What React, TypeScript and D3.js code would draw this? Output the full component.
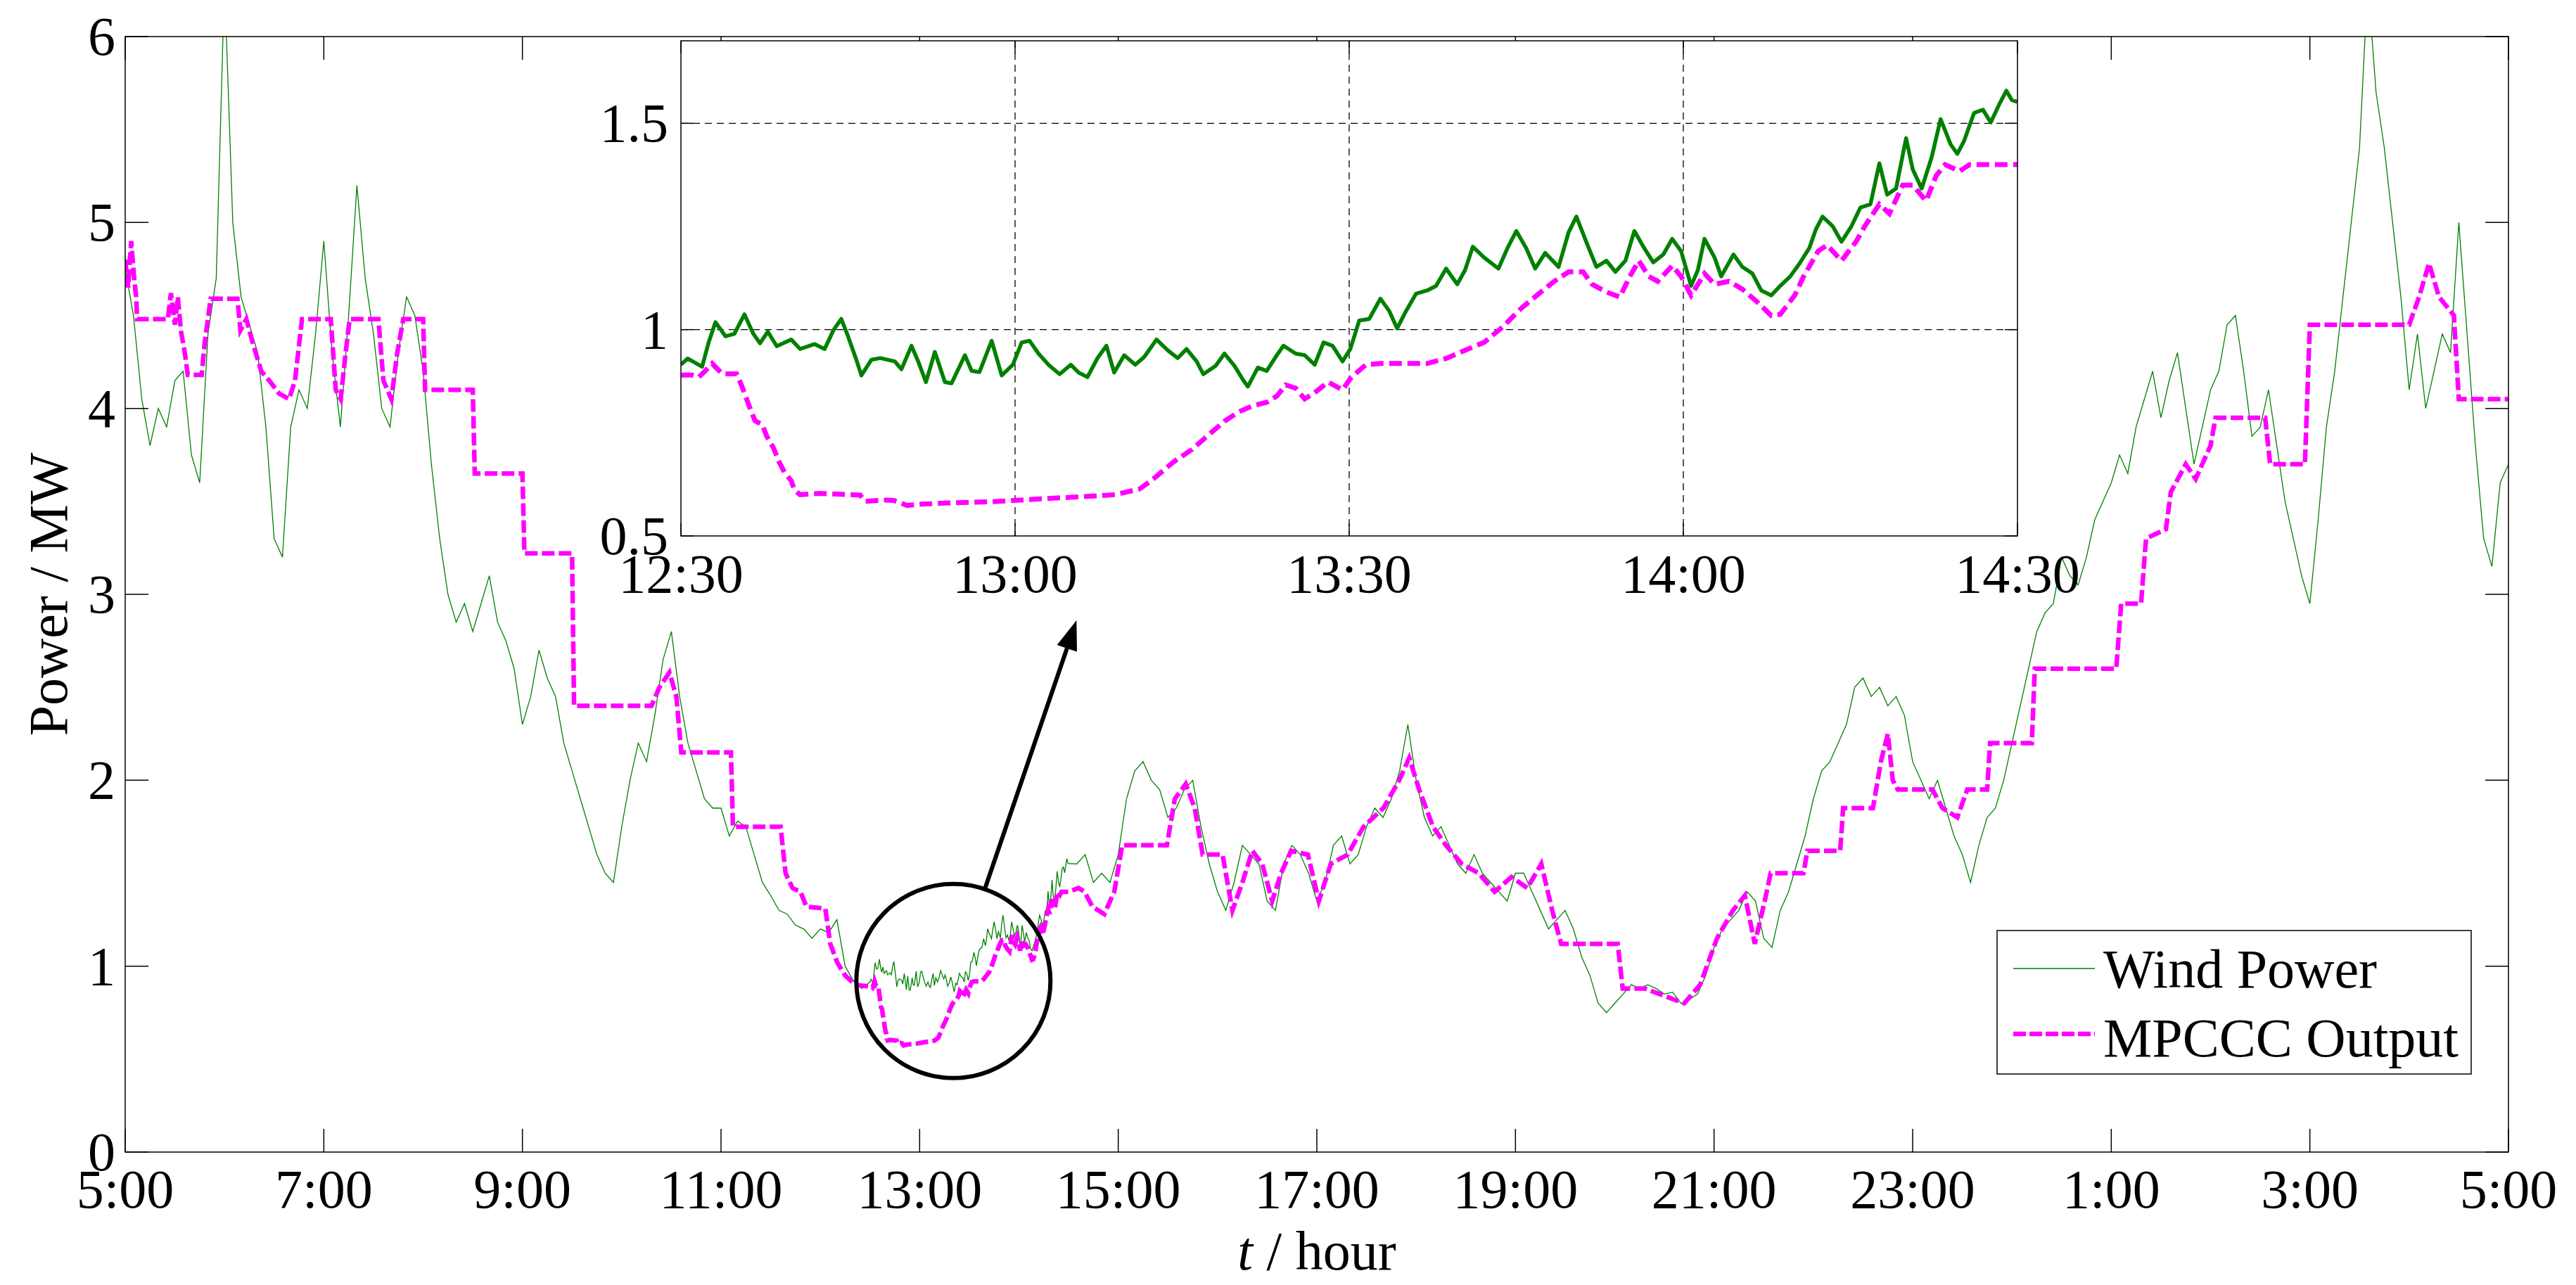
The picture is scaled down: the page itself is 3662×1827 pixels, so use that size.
import React from "react";
import * as d3 from "d3";

// ---------------- data ----------------
// main axis: hours after 5:00 (0..24)
const xTickHours = [0, 2, 4, 6, 8, 10, 12, 14, 16, 18, 20, 22, 24];
const xTickLabels = ["5:00", "7:00", "9:00", "11:00", "13:00", "15:00", "17:00", "19:00", "21:00", "23:00", "1:00", "3:00", "5:00"];
const yTicks = [0, 1, 2, 3, 4, 5, 6];

// wind power sampled every 5 minutes from 5:00 (MW)
const windPower = [
  4.75, 4.5, 4.05, 3.8, 4.0, 3.9, 4.15, 4.2, 3.75, 3.6, 4.4, 4.7,
  6.3, 5.0, 4.6, 4.45, 4.3, 3.9, 3.3, 3.2, 3.9, 4.1, 4.0, 4.4,
  4.9, 4.3, 3.9, 4.5, 5.2, 4.7, 4.4, 4.0, 3.9, 4.3, 4.6, 4.5,
  4.2, 3.7, 3.3, 3.0, 2.85, 2.95, 2.8, 2.95, 3.1, 2.85, 2.75, 2.6,
  2.3, 2.45, 2.7, 2.55, 2.45, 2.2, 2.05, 1.9, 1.75, 1.6, 1.5, 1.45,
  1.75, 2.0, 2.2, 2.1, 2.35, 2.65, 2.8, 2.45, 2.2, 2.05, 1.9, 1.85,
  1.85, 1.7, 1.78, 1.75, 1.6, 1.45, 1.38, 1.3, 1.28, 1.22, 1.2, 1.15,
  1.2, 1.18, 1.25, 1.0, 0.92, 0.88, 0.915, 0.99, 0.96, 0.98, 0.9, 0.95,
  0.915, 0.9, 0.93, 0.93, 0.88, 0.94, 0.95, 1.04, 1.1, 1.2, 1.15, 1.2,
  1.19, 1.2, 1.11, 1.2, 1.4, 1.46, 1.55, 1.55, 1.6, 1.45, 1.5, 1.45,
  1.6, 1.9, 2.05, 2.1, 2.0, 1.95, 1.8, 1.85, 1.95, 2.0, 1.75, 1.55,
  1.4, 1.3, 1.45, 1.65, 1.6, 1.55, 1.35, 1.3, 1.55, 1.65, 1.6, 1.5,
  1.35, 1.45, 1.65, 1.7, 1.55, 1.6, 1.75, 1.85, 1.8, 1.9, 2.05, 2.3,
  2.0, 1.8, 1.7, 1.75, 1.65, 1.55, 1.5, 1.6, 1.5, 1.45, 1.4, 1.35,
  1.5, 1.5, 1.4, 1.3, 1.2, 1.25, 1.3, 1.2, 1.05, 0.95, 0.8, 0.75,
  0.8, 0.85, 0.9, 0.88, 0.9, 0.88, 0.85, 0.86, 0.8, 0.82, 0.85, 0.95,
  1.1, 1.2, 1.25, 1.3, 1.4, 1.35, 1.15, 1.1, 1.3, 1.4, 1.55, 1.7,
  1.9, 2.05, 2.1, 2.2, 2.3, 2.5, 2.55, 2.45, 2.5, 2.4, 2.45, 2.35,
  2.1, 2.0, 1.9, 2.0, 1.85, 1.7, 1.6, 1.45, 1.65, 1.8, 1.85, 2.0,
  2.2, 2.4, 2.6, 2.8, 2.9, 2.95, 3.2, 3.1, 3.05, 3.2, 3.4, 3.5,
  3.6, 3.75, 3.65, 3.9, 4.05, 4.2, 3.95, 4.15, 4.3, 4.0, 3.7, 3.9,
  4.1, 4.2, 4.45, 4.5, 4.2, 3.85, 3.9, 4.1, 3.8, 3.5, 3.3, 3.1,
  2.95, 3.4, 3.9, 4.2, 4.6, 5.0, 5.4, 6.3, 5.7, 5.4, 5.0, 4.6,
  4.1, 4.4, 4.0, 4.2, 4.4, 4.3, 5.0, 4.4, 3.8, 3.3, 3.15, 3.6, 3.7,
];

// MPCCC output breakpoints (hours after 5:00, MW)
const mpcccHours = [
  0, 0.03, 0.06, 0.09, 0.11, 0.12, 0.43, 0.46, 0.5, 0.53,
  0.56, 0.6, 0.63, 0.77, 0.8, 0.86, 1.13, 1.16, 1.22, 1.28,
  1.37, 1.45, 1.55, 1.65, 1.71, 1.78, 2.07, 2.12, 2.17, 2.22,
  2.26, 2.55, 2.6, 2.68, 2.74, 2.8, 3.0, 3.02, 3.5, 3.52,
  4.0, 4.02, 4.5, 4.52, 5.3, 5.38, 5.48, 5.55, 5.6, 6.1,
  6.12, 6.6, 6.65, 6.72, 6.8, 6.86, 7.05, 7.1, 7.17, 7.25,
  7.35,
  9.6, 9.66, 9.74, 9.86, 9.96, 10.04, 10.49, 10.57, 10.68, 10.77,
  10.85, 11.05, 11.15, 11.25, 11.35, 11.45, 11.55, 11.64, 11.74, 11.91,
  12.02, 12.14, 12.31, 12.47, 12.67, 12.83, 12.93, 13.03, 13.17, 13.3,
  13.46, 13.63, 13.79, 13.96, 14.12, 14.26, 14.37, 14.46, 15.03, 15.08,
  15.3, 15.45, 15.7, 15.86, 16.03, 16.19, 16.31, 16.41, 16.51, 16.57,
  16.9, 16.94, 17.27, 17.3, 17.6, 17.68, 17.75, 17.8, 17.85, 18.2,
  18.3, 18.45, 18.55, 18.75, 18.78, 19.2, 19.23, 19.7, 20.05, 20.1,
  20.3, 20.35, 20.55, 20.6, 20.75, 20.85, 21.0, 21.05, 21.55, 21.6,
  21.95, 22.0, 23.0, 23.1, 23.2, 23.3, 23.45, 23.5, 24.0,
];
const mpcccValues = [
  4.8, 4.65, 4.9, 4.7, 4.6, 4.48, 4.48, 4.62, 4.45, 4.6,
  4.42, 4.3, 4.18, 4.18, 4.35, 4.59, 4.59, 4.42, 4.48, 4.36,
  4.2, 4.15, 4.08, 4.05, 4.15, 4.48, 4.48, 4.1, 4.05, 4.3,
  4.48, 4.48, 4.15, 4.05, 4.3, 4.48, 4.48, 4.1, 4.1, 3.65,
  3.65, 3.22, 3.22, 2.4, 2.4, 2.5, 2.58, 2.45, 2.15, 2.15,
  1.75, 1.75, 1.5, 1.42, 1.4, 1.32, 1.31, 1.12, 1.02, 0.95,
  0.9,
  1.42, 1.4, 1.32, 1.28, 1.4, 1.65, 1.65, 1.9, 1.98, 1.85,
  1.6, 1.6, 1.3, 1.45, 1.62, 1.55, 1.35, 1.5, 1.62, 1.6,
  1.35, 1.55, 1.6, 1.75, 1.85, 2.0, 2.12, 1.95, 1.75, 1.65,
  1.55, 1.5, 1.4, 1.48, 1.42, 1.55, 1.3, 1.12, 1.12, 0.88,
  0.88, 0.85, 0.8, 0.9, 1.15, 1.3, 1.38, 1.12, 1.35, 1.5,
  1.5, 1.62, 1.62, 1.85, 1.85, 2.1, 2.25, 2.0, 1.95, 1.95,
  1.85, 1.8, 1.95, 1.95, 2.2, 2.2, 2.6, 2.6, 2.6, 2.95,
  2.95, 3.3, 3.35, 3.55, 3.7, 3.62, 3.8, 3.95, 3.95, 3.7,
  3.7, 4.45, 4.45, 4.6, 4.78, 4.6, 4.5, 4.05, 4.05,
];

// inset (12:30 - 14:30), minutes after 12:30
const insetXTickMinutes = [0, 30, 60, 90, 120];
const insetXTickLabels = ["12:30", "13:00", "13:30", "14:00", "14:30"];
const insetYTicks = [0.5, 1, 1.5];
const insetYTickLabels = ["0.5", "1", "1.5"];

const insetWindMinutes = [
  0, 0.6, 1.9, 2.5, 3.1, 4.0, 4.8, 5.7, 6.5, 7.1,
  7.8, 8.6, 9.9, 10.7, 12, 12.9, 13.7, 14.4, 15, 15.8,
  16.2, 17.1, 17.9, 19.2, 19.8, 20.7, 21.3, 22, 22.8, 23.7,
  24.3, 25.5, 26.1, 26.8, 27.9, 28.8, 29.8, 30.6, 31.3, 32.1,
  33, 34, 35, 35.7, 36.5, 37.4, 38.2, 38.9, 39.8, 40.8,
  41.6, 42.7, 43.7, 44.6, 45.4, 46.3, 46.9, 48, 48.8, 49.7,
  50.5, 50.9, 51.8, 52.6, 53.5, 54.1, 55.2, 56, 56.9, 57.7,
  58.5, 59.4, 60.1, 60.9, 61.8, 62.8, 63.6, 64.3, 65.1, 66,
  67, 67.8, 68.7, 69.7, 70.4, 71.1, 72.1, 73.4, 74.2, 75,
  75.9, 76.7, 77.6, 78.8, 79.7, 80.4, 81.4, 82.2, 83.1, 83.9,
  84.8, 85.6, 86.5, 87.3, 88.2, 89, 89.8, 90.7, 91.3, 91.9,
  92.8, 93.4, 94.5, 95.3, 96.2, 97, 97.9, 98.7, 99.6, 100.4,
  101.3, 101.9, 102.5, 103.4, 104.2, 105.1, 105.9, 106.8, 107.6, 108.3,
  109.1, 110, 110.6, 111.4, 112.3, 113.1, 114, 114.6, 115.2, 116.1,
  116.9, 117.6, 118.4, 119, 119.5, 120,
];
const insetWindValues = [
  0.915, 0.93, 0.91, 0.97, 1.018, 0.984, 0.99, 1.037, 0.99, 0.967,
  0.995, 0.96, 0.976, 0.953, 0.965, 0.953, 0.999, 1.026, 0.984, 0.923,
  0.889, 0.927, 0.931, 0.923, 0.904, 0.961, 0.923, 0.873, 0.946, 0.873,
  0.87, 0.938, 0.9, 0.897, 0.973, 0.889, 0.915, 0.969, 0.973, 0.942,
  0.915, 0.892, 0.915, 0.896, 0.885, 0.931, 0.961, 0.896, 0.938, 0.915,
  0.934, 0.976, 0.95, 0.931, 0.953, 0.923, 0.892, 0.912, 0.942, 0.912,
  0.877, 0.862, 0.908, 0.9, 0.938, 0.961, 0.942, 0.938, 0.915, 0.969,
  0.961, 0.923, 0.953, 1.022, 1.026, 1.075, 1.045, 1.003, 1.045, 1.087,
  1.095, 1.106, 1.148, 1.11, 1.144, 1.201, 1.175, 1.148, 1.197, 1.239,
  1.197, 1.148, 1.186, 1.152, 1.236, 1.274, 1.205, 1.152, 1.167, 1.14,
  1.167, 1.239, 1.197, 1.163, 1.182, 1.22, 1.19, 1.106, 1.144, 1.22,
  1.175, 1.129, 1.182, 1.152, 1.136, 1.095, 1.083, 1.106, 1.129, 1.159,
  1.197, 1.243, 1.274, 1.251, 1.213, 1.251, 1.296, 1.304, 1.403, 1.327,
  1.342, 1.464, 1.388, 1.342, 1.418, 1.51, 1.449, 1.426, 1.457, 1.525,
  1.533, 1.502, 1.548, 1.579, 1.556, 1.552,
];

const insetMpcccMinutes = [
  0, 1.0, 1.6, 2.0, 2.8, 3.7, 5.0, 5.5, 5.8, 6.2,
  6.65, 7.3, 7.7, 8.3, 8.8, 9.3, 9.9, 10.2, 10.7, 12.5,
  16.1, 16.5, 18.4, 19.1, 20.3, 21.6, 24, 28, 32.3, 36,
  39, 41.2, 42.5, 44.2, 45.9, 47.5, 48.8, 50.1, 51.4, 52.6,
  53.5, 54.3, 55.2, 56.0, 56.9, 58.1, 59.4, 60.2, 61.5, 62.8,
  67.0, 68.7, 70.4, 72.1, 73.8, 75.5, 77.2, 78.4, 79.7, 81.0,
  81.8, 83.1, 84.3, 85.2, 86.0, 86.9, 87.7, 89.0, 89.8, 90.7,
  91.9, 92.8, 94.1, 95.3, 96.6, 97.9, 98.7, 100.0, 100.8, 102.1,
  102.9, 104.2, 105.5, 106.3, 107.6, 108.5, 109.7, 110.6, 111.8, 112.7,
  113.5, 114.8, 115.7, 120,
];
const insetMpcccValues = [
  0.89, 0.89, 0.885, 0.895, 0.918, 0.893, 0.893, 0.861, 0.839, 0.81,
  0.779, 0.77, 0.742, 0.714, 0.68, 0.654, 0.634, 0.611, 0.6, 0.603,
  0.599, 0.584, 0.587, 0.586, 0.574, 0.577, 0.58, 0.583, 0.59, 0.595,
  0.6, 0.614, 0.64, 0.679, 0.71, 0.748, 0.778, 0.801, 0.816, 0.824,
  0.839, 0.866, 0.858, 0.832, 0.847, 0.873, 0.854, 0.885, 0.915, 0.918,
  0.918, 0.93, 0.95, 0.969, 1.007, 1.053, 1.091, 1.117, 1.14, 1.14,
  1.11, 1.091, 1.079, 1.129, 1.167, 1.129, 1.117, 1.155, 1.129, 1.083,
  1.136, 1.11, 1.117, 1.098, 1.068, 1.034, 1.037, 1.083, 1.129, 1.19,
  1.205, 1.167, 1.213, 1.251, 1.304, 1.281, 1.35, 1.35, 1.312, 1.373,
  1.4, 1.384, 1.4, 1.4,
];

// annotation (data coordinates)
const zoomCircleCenter = { hour: 8.34, mw: 0.92 };
const arrowTipPoint = { hour: 9.58, mw: 2.86 };

const legendLabels = ["Wind Power", "MPCCC Output"];

// ---------------- layout / style ----------------
const W = 3662;
const H = 1827;
const M = { left: 178, right: 3566, top: 52, bottom: 1638 };
const INSET = { left: 968, right: 2868, top: 58, bottom: 762 };
const FONT = "'Liberation Serif', 'Times New Roman', Times, serif";
const FS = 78;
const GREEN = "#008000";
const MAGENTA = "#ff00ff";
const INSET_START_HOUR = 7.5;

export default function App() {
  const x = d3.scaleLinear().domain([0, 24]).range([M.left, M.right]);
  const y = d3.scaleLinear().domain([0, 6]).range([M.bottom, M.top]);
  const xi = d3.scaleLinear().domain([0, 120]).range([INSET.left, INSET.right]);
  const yi = d3.scaleLinear().domain([0.5, 1.7]).range([INSET.bottom, INSET.top]);

  const coarse: [number, number][] = windPower.map((v, i) => [i / 12, v]);
  const fineWind: [number, number][] = insetWindMinutes.map((m, i) => [INSET_START_HOUR + m / 60, insetWindValues[i]]);
  const windMain = [
    ...coarse.filter((d) => d[0] < INSET_START_HOUR),
    ...fineWind,
    ...coarse.filter((d) => d[0] > INSET_START_HOUR + 2),
  ];
  const mpCoarse: [number, number][] = mpcccHours.map((h, i) => [h, mpcccValues[i]]);
  const fineMp: [number, number][] = insetMpcccMinutes.map((m, i) => [INSET_START_HOUR + m / 60, insetMpcccValues[i]]);
  const mpMain = [
    ...mpCoarse.filter((d) => d[0] < INSET_START_HOUR),
    ...fineMp,
    ...mpCoarse.filter((d) => d[0] > INSET_START_HOUR + 2),
  ];

  const lineMain = d3
    .line<[number, number]>()
    .x((d) => x(d[0]))
    .y((d) => y(d[1]));
  const lineInset = d3
    .line<[number, number]>()
    .x((d) => xi(d[0]))
    .y((d) => yi(d[1]));

  const insetWind: [number, number][] = insetWindMinutes.map((m, i) => [m, insetWindValues[i]]);
  const insetMp: [number, number][] = insetMpcccMinutes.map((m, i) => [m, insetMpcccValues[i]]);

  // annotation geometry
  const cx = x(zoomCircleCenter.hour);
  const cy = y(zoomCircleCenter.mw);
  const r = 138;
  const tx = x(arrowTipPoint.hour);
  const ty = y(arrowTipPoint.mw);
  const dx = tx - cx;
  const dy = ty - cy;
  const len = Math.hypot(dx, dy);
  const ux = dx / len;
  const uy = dy / len;
  const sx = cx + ux * r;
  const sy = cy + uy * r;
  const headLen = 42;
  const headHalf = 15;
  const bx = tx - ux * headLen;
  const by = ty - uy * headLen;
  const px = -uy;
  const py = ux;
  const head = `M${tx},${ty} L${bx + px * headHalf},${by + py * headHalf} L${bx - px * headHalf},${by - py * headHalf} Z`;

  const tick = 33;
  const itick = 18;

  return (
    <svg
      width={W}
      height={H}
      viewBox={`0 0 ${W} ${H}`}
      style={{ position: "absolute", left: 0, top: 0, background: "#fff" }}
      fontFamily={FONT}
    >
      <defs>
        <clipPath id="mainClip">
          <rect x={M.left} y={M.top} width={M.right - M.left} height={M.bottom - M.top} />
        </clipPath>
        <clipPath id="insetClip">
          <rect x={INSET.left} y={INSET.top} width={INSET.right - INSET.left} height={INSET.bottom - INSET.top} />
        </clipPath>
      </defs>
      <rect x={0} y={0} width={W} height={H} fill="#fff" />

      {/* main data */}
      <g clipPath="url(#mainClip)">
        <path d={lineMain(windMain) || ""} fill="none" stroke={GREEN} strokeWidth={1.3} strokeLinejoin="miter" />
        <path d={lineMain(mpMain) || ""} fill="none" stroke={MAGENTA} strokeWidth={6.5} strokeDasharray="18,6" />
      </g>

      {/* main frame and ticks */}
      <rect x={M.left} y={M.top} width={M.right - M.left} height={M.bottom - M.top} fill="none" stroke="#000" strokeWidth={1.5} />
      {xTickHours.map((h, i) => (
        <g key={"xt" + i}>
          <line x1={x(h)} x2={x(h)} y1={M.bottom} y2={M.bottom - tick} stroke="#000" strokeWidth={1.5} />
          <line x1={x(h)} x2={x(h)} y1={M.top} y2={M.top + tick} stroke="#000" strokeWidth={1.5} />
          <text x={x(h)} y={1717} fontSize={FS} textAnchor="middle">
            {xTickLabels[i]}
          </text>
        </g>
      ))}
      {yTicks.map((v) => (
        <g key={"yt" + v}>
          <line x1={M.left} x2={M.left + tick} y1={y(v)} y2={y(v)} stroke="#000" strokeWidth={1.5} />
          <line x1={M.right} x2={M.right - tick} y1={y(v)} y2={y(v)} stroke="#000" strokeWidth={1.5} />
          <text x={164} y={y(v) + 26} fontSize={FS} textAnchor="end">
            {v}
          </text>
        </g>
      ))}

      {/* axis titles */}
      <text x={(M.left + M.right) / 2} y={1805} fontSize={FS} textAnchor="middle">
        <tspan fontStyle="italic">t</tspan> / hour
      </text>
      <text transform={`translate(95, ${(M.top + M.bottom) / 2}) rotate(-90)`} fontSize={FS} textAnchor="middle">
        Power / MW
      </text>

      {/* zoom circle and arrow */}
      <circle cx={cx} cy={cy} r={r} fill="none" stroke="#000" strokeWidth={6} />
      <line x1={sx} y1={sy} x2={bx} y2={by} stroke="#000" strokeWidth={6} />
      <path d={head} fill="#000" />

      {/* inset */}
      <rect x={INSET.left} y={INSET.top} width={INSET.right - INSET.left} height={INSET.bottom - INSET.top} fill="#fff" />
      {insetYTicks.slice(1).map((v) => (
        <line key={"igy" + v} x1={INSET.left} x2={INSET.right} y1={yi(v)} y2={yi(v)} stroke="#000" strokeWidth={1.3} strokeDasharray="10,7" />
      ))}
      {insetXTickMinutes.slice(1, -1).map((m) => (
        <line key={"igx" + m} x1={xi(m)} x2={xi(m)} y1={INSET.top} y2={INSET.bottom} stroke="#000" strokeWidth={1.3} strokeDasharray="10,7" />
      ))}
      <g clipPath="url(#insetClip)">
        <path d={lineInset(insetWind) || ""} fill="none" stroke={GREEN} strokeWidth={5.5} strokeLinejoin="round" />
        <path d={lineInset(insetMp) || ""} fill="none" stroke={MAGENTA} strokeWidth={7} strokeDasharray="18,8" />
      </g>
      <rect x={INSET.left} y={INSET.top} width={INSET.right - INSET.left} height={INSET.bottom - INSET.top} fill="none" stroke="#000" strokeWidth={1.5} />
      {insetXTickMinutes.map((m, i) => (
        <g key={"ixt" + m}>
          <line x1={xi(m)} x2={xi(m)} y1={INSET.bottom} y2={INSET.bottom - itick} stroke="#000" strokeWidth={1.5} />
          <line x1={xi(m)} x2={xi(m)} y1={INSET.top} y2={INSET.top + itick} stroke="#000" strokeWidth={1.5} />
          <text x={xi(m)} y={842} fontSize={FS} textAnchor="middle">
            {insetXTickLabels[i]}
          </text>
        </g>
      ))}
      {insetYTicks.map((v, i) => (
        <g key={"iyt" + v}>
          <line x1={INSET.left} x2={INSET.left + itick} y1={yi(v)} y2={yi(v)} stroke="#000" strokeWidth={1.5} />
          <line x1={INSET.right} x2={INSET.right - itick} y1={yi(v)} y2={yi(v)} stroke="#000" strokeWidth={1.5} />
          <text x={950} y={yi(v) + 26} fontSize={FS} textAnchor="end">
            {insetYTickLabels[i]}
          </text>
        </g>
      ))}

      {/* legend */}
      <rect x={2839} y={1323} width={3513 - 2839} height={1527 - 1323} fill="#fff" stroke="#000" strokeWidth={1.5} />
      <line x1={2862} x2={2978} y1={1377} y2={1377} stroke={GREEN} strokeWidth={1.4} />
      <line x1={2862} x2={2978} y1={1470} y2={1470} stroke={MAGENTA} strokeWidth={6.5} strokeDasharray="18,5" />
      <text x={2990} y={1404} fontSize={FS}>
        {legendLabels[0]}
      </text>
      <text x={2990} y={1502} fontSize={FS}>
        {legendLabels[1]}
      </text>
    </svg>
  );
}
